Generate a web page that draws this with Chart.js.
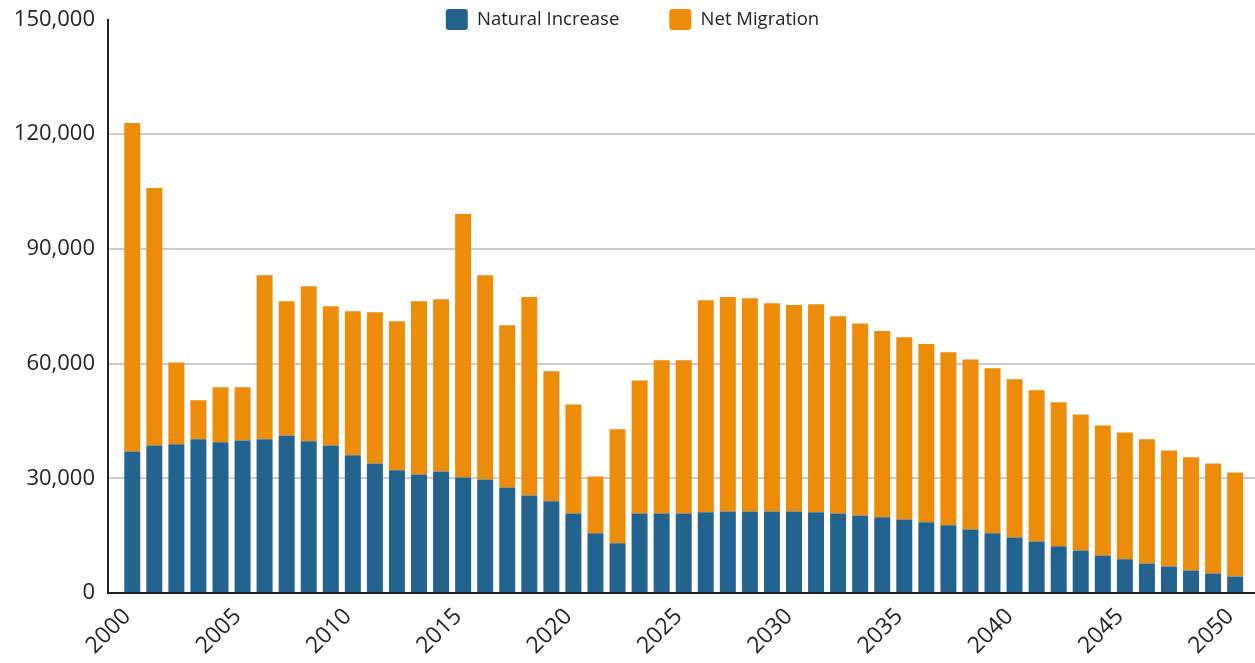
<!DOCTYPE html>
<html>
<head>
<meta charset="utf-8">
<script src="https://cdn.jsdelivr.net/npm/chart.js@4.4.1/dist/chart.umd.min.js"></script>
<style>
  body { margin: 0; background: #fff; }
  #wrap { width: 1255px; height: 663px; }
</style>
</head>
<body>
<div id="wrap"><canvas id="chart" width="1255" height="663"></canvas></div>
<script>
// data
const years = [2000, 2001, 2002, 2003, 2004, 2005, 2006, 2007, 2008, 2009,
  2010, 2011, 2012, 2013, 2014, 2015, 2016, 2017, 2018, 2019,
  2020, 2021, 2022, 2023, 2024, 2025, 2026, 2027, 2028, 2029,
  2030, 2031, 2032, 2033, 2034, 2035, 2036, 2037, 2038, 2039,
  2040, 2041, 2042, 2043, 2044, 2045, 2046, 2047, 2048, 2049, 2050];

const naturalIncrease = [37000, 38600, 38900, 40200, 39400, 39900, 40200, 41200, 39700, 38600,
  36000, 33900, 32100, 31000, 31800, 30200, 29700, 27600, 25500, 24000,
  20800, 15600, 13000, 20800, 20800, 20800, 21100, 21300, 21300, 21300,
  21300, 21100, 20800, 20300, 19800, 19200, 18500, 17700, 16600, 15600,
  14500, 13500, 12200, 11100, 9800, 8800, 7700, 6900, 5900, 5100, 4300];

const netMigration = [85900, 67300, 21400, 10200, 14400, 13900, 42900, 35100, 40500, 36400,
  37700, 39500, 39000, 45300, 45000, 68900, 53400, 42400, 51900, 34000,
  28500, 14900, 29800, 34800, 40100, 40100, 55500, 56100, 55800, 54500,
  54000, 54400, 51600, 50200, 48700, 47700, 46600, 45300, 44500, 43200,
  41400, 39500, 37700, 35600, 34000, 33200, 32500, 30400, 29600, 28800, 27200];

const seriesNames = ['Natural Increase', 'Net Migration'];
const yTicks = [0, 30000, 60000, 90000, 120000, 150000];

const FONT = "'Open Sans', 'Noto Sans', sans-serif";
const INK = '#222222';

// legend sits over the top of the plot, roughly centred on the page
const legendPlace = {
  id: 'legendPlace',
  afterLayout(chart) {
    const lg = chart.legend;
    const pad = lg.options.labels.padding;
    lg.left = 10;
    lg.right = chart.width;
    lg.width = lg.right - lg.left;
    lg.top = 9 - pad;
    lg.bottom = 40;
    lg.height = lg.bottom - lg.top;
  }
};

new Chart(document.getElementById('chart'), {
  type: 'bar',
  data: {
    labels: years,
    datasets: [
      {
        label: seriesNames[0],
        data: naturalIncrease,
        backgroundColor: '#23638f',
        barPercentage: 0.725,
        categoryPercentage: 1
      },
      {
        label: seriesNames[1],
        data: netMigration,
        backgroundColor: '#ec8c09',
        barPercentage: 0.725,
        categoryPercentage: 1
      }
    ]
  },
  options: {
    responsive: false,
    animation: false,
    layout: { padding: { top: 18.5, left: 0, right: 0, bottom: 0 } },
    plugins: {
      tooltip: { enabled: false },
      legend: {
        position: 'top',
        align: 'center',
        maxHeight: 1,
        labels: {
          font: { family: FONT, size: 18.5 },
          color: INK,
          boxWidth: 22,
          boxHeight: 21,
          padding: 50,
          useBorderRadius: true,
          borderRadius: 3
        }
      }
    },
    scales: {
      x: {
        type: 'linear',
        stacked: true,
        offset: false,
        min: 1998.9,
        max: 2050.9,
        grid: { display: false, drawTicks: false },
        border: { display: true, color: INK, width: 2 },
        ticks: {
          stepSize: 5,
          includeBounds: false,
          minRotation: 45,
          maxRotation: 45,
          padding: 10,
          labelOffset: -5,
          color: INK,
          font: { family: FONT, size: 23 },
          callback: (v) => String(v)
        },
        afterFit(scale) {
          scale.height = 70;
          scale.paddingLeft = 0;
          scale.paddingRight = 0;
        }
      },
      y: {
        stacked: true,
        min: 0,
        max: 150000,
        grid: {
          drawTicks: false,
          lineWidth: 2,
          color: (ctx) => (ctx.tick && ctx.tick.value === yTicks[yTicks.length - 1]) ? 'rgba(0,0,0,0)' : '#cccccc'
        },
        border: { display: true, color: INK, width: 2 },
        ticks: {
          stepSize: yTicks[1] - yTicks[0],
          padding: 13,
          color: INK,
          font: { family: FONT, size: 22 },
          callback: (v) => v.toLocaleString('en-US')
        },
        afterFit(scale) {
          scale.width = 108;
          scale.paddingTop = 0;
        }
      }
    }
  },
  plugins: [legendPlace]
});
</script>
</body>
</html>
